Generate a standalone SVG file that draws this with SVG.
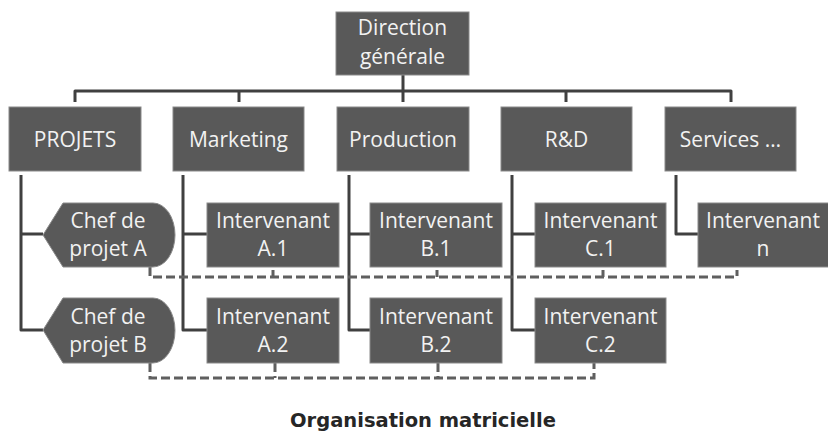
<svg xmlns="http://www.w3.org/2000/svg" width="828" height="432" viewBox="0 0 828 432">
<style>
.box{fill:#595959;stroke:#8a8a8a;stroke-width:1}
.t{font-family:"Open Sans","Liberation Sans",Arial,sans-serif;font-size:21px;fill:#f2f2f2;text-anchor:middle}
.ln{fill:none;stroke:#404040;stroke-width:3;stroke-linejoin:round}
.dash{fill:none;stroke:#5f5f5f;stroke-width:3;stroke-dasharray:9 4}
.title{font-family:"DejaVu Sans",Verdana,sans-serif;font-weight:bold;font-size:19.5px;fill:#262626;text-anchor:middle}
</style>
<rect width="828" height="432" fill="#ffffff"/>
<g id="connectors">
<path class="ln" d="M403,75 V102 M75,102 V91 H731 V102 M239,91 V102 M566,91 V102"/>
<path class="ln" d="M21,175 V330 H43 M21,234 H43"/>
<path class="ln" d="M183,175 V330 H207 M183,234 H207"/>
<path class="ln" d="M349,175 V330 H370 M349,234 H370"/>
<path class="ln" d="M512,175 V330 H535 M512,234 H535"/>
<path class="ln" d="M676,175 V234 H698"/>
<path class="dash" d="M150,267 V277 H737 V270 M273,270 V277 M437,270 V277 M603,270 V277"/>
<path class="dash" d="M150,363 V378 H594 V363 M275,363 V378 M438,363 V378"/>
</g>
<g id="dg"><rect class="box" x="336" y="12" width="133" height="63"/><text class="t" x="402.5" y="35">Direction</text><text class="t" x="402.5" y="64">générale</text></g>
<g id="projets"><rect class="box" x="9" y="107" width="132" height="64"/><text class="t" x="75" y="147">PROJETS</text></g>
<g id="marketing"><rect class="box" x="173" y="107" width="131" height="64"/><text class="t" x="238.5" y="147">Marketing</text></g>
<g id="production"><rect class="box" x="337" y="107" width="132" height="64"/><text class="t" x="403" y="147">Production</text></g>
<g id="rd"><rect class="box" x="501" y="107" width="131" height="64"/><text class="t" x="566.5" y="147">R&amp;D</text></g>
<g id="services"><rect class="box" x="665" y="107" width="131" height="64"/><text class="t" x="730.5" y="147">Services …</text></g>
<g id="chefA"><path class="box" d="M63,203 H153 A22,32 0 0 1 153,267 H63 L43,235 Z"/><text class="t" x="108" y="228">Chef de</text><text class="t" x="108" y="256">projet A</text></g>
<g id="chefB"><path class="box" d="M63,298 H153 A22,32.5 0 0 1 153,363 H63 L43,330 Z"/><text class="t" x="108" y="324">Chef de</text><text class="t" x="108" y="352">projet B</text></g>
<g id="a1"><rect class="box" x="207" y="203" width="132" height="64"/><text class="t" x="273" y="228">Intervenant</text><text class="t" x="273" y="256">A.1</text></g>
<g id="b1"><rect class="box" x="370" y="203" width="132" height="64"/><text class="t" x="436" y="228">Intervenant</text><text class="t" x="436" y="256">B.1</text></g>
<g id="c1"><rect class="box" x="535" y="203" width="131" height="64"/><text class="t" x="600.5" y="228">Intervenant</text><text class="t" x="600.5" y="256">C.1</text></g>
<g id="n"><rect class="box" x="698" y="203" width="131" height="64"/><text class="t" x="763" y="228">Intervenant</text><text class="t" x="763" y="256">n</text></g>
<g id="a2"><rect class="box" x="207" y="298" width="132" height="65"/><text class="t" x="273" y="324">Intervenant</text><text class="t" x="273" y="352">A.2</text></g>
<g id="b2"><rect class="box" x="370" y="298" width="132" height="65"/><text class="t" x="436" y="324">Intervenant</text><text class="t" x="436" y="352">B.2</text></g>
<g id="c2"><rect class="box" x="535" y="298" width="131" height="65"/><text class="t" x="600.5" y="324">Intervenant</text><text class="t" x="600.5" y="352">C.2</text></g>
<text class="title" x="423" y="427">Organisation matricielle</text>
</svg>
